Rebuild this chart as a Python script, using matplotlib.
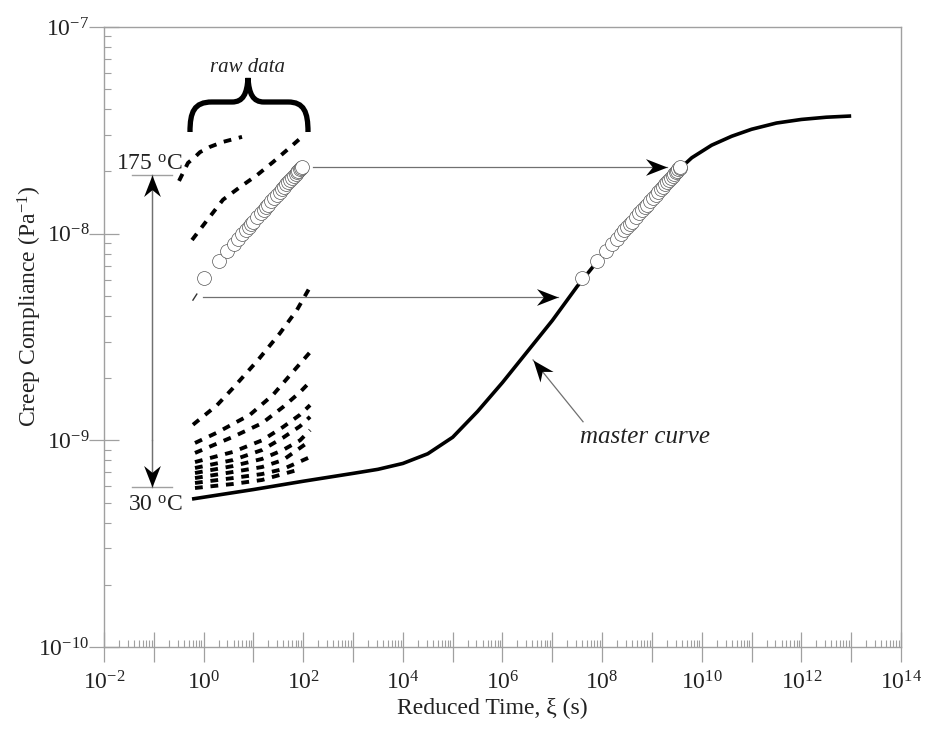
import numpy as np
import matplotlib
matplotlib.use("Agg")
import matplotlib.pyplot as plt
from matplotlib.ticker import FixedLocator, FuncFormatter, NullFormatter
from matplotlib.path import Path
from matplotlib.patches import PathPatch
from matplotlib.markers import MarkerStyle
from matplotlib.transforms import Affine2D

plt.rcParams['font.family'] = ['Liberation Serif', 'DejaVu Serif']
plt.rcParams['mathtext.fontset'] = 'custom'
plt.rcParams['mathtext.rm'] = 'Liberation Serif'
plt.rcParams['mathtext.it'] = 'Liberation Serif:italic'

# === data ===

# master curve (reduced time, compliance)
master_time = [0.585, 10, 100, 1e3, 3.16e3, 1e4, 3.16e4, 1e5, 3.16e5, 1e6, 3.16e6,
               1e7, 3.16e7, 1e8, 3.16e8, 1e9, 3.16e9, 6.31e9, 1.58e10, 3.98e10,
               1e11, 3.16e11, 1e12, 3.16e12, 1e13]
master_comp = [5.20e-10, 5.78e-10, 6.34e-10, 6.92e-10, 7.24e-10, 7.73e-10, 8.61e-10,
               1.035e-9, 1.38e-9, 1.905e-9, 2.69e-9, 3.80e-9, 5.56e-9, 7.85e-9,
               1.07e-8, 1.46e-8, 2.00e-8, 2.33e-8, 2.68e-8, 2.96e-8, 3.20e-8,
               3.43e-8, 3.57e-8, 3.66e-8, 3.71e-8]

# one raw isotherm shown with circles, and its shifted copy on the master curve
circ_time = [1, 2, 3, 4, 5, 6, 7, 8, 9, 10, 12, 14, 16, 18, 20, 23, 26, 30, 34, 38,
             42, 46, 50, 55, 60, 65, 70, 75, 80, 85, 90, 94]
circ_comp = [6.11e-9, 7.38e-9, 8.24e-9, 8.91e-9, 9.47e-9, 9.95e-9, 10.37e-9, 10.76e-9,
             11.11e-9, 11.43e-9, 12.01e-9, 12.53e-9, 12.99e-9, 13.41e-9, 13.80e-9,
             14.34e-9, 14.82e-9, 15.41e-9, 15.94e-9, 16.43e-9, 16.89e-9, 17.31e-9,
             17.71e-9, 18.17e-9, 18.61e-9, 19.02e-9, 19.40e-9, 19.77e-9, 20.12e-9,
             20.46e-9, 20.78e-9, 21.02e-9]
log_shift = 7.6

# other raw isotherms (dashed), hottest first
raw_time = [
    [0.321, 0.386, 0.485, 0.671, 0.845, 1.34, 2.45, 5.90],
    [0.585, 1.17, 2.45, 5.37, 11.8, 24.7, 47.2, 94.4],
    [0.612, 1.86, 3.89, 12.4, 34.1, 75.0, 137],
    [0.671, 1.86, 8.53, 24.7, 59.4, 137],
    [0.671, 3.89, 14.9, 39.3, 86.1, 137],
    [0.671, 3.89, 14.9, 39.3, 86.1, 137],
    [0.671, 3.89, 14.9, 39.3, 86.1, 137],
    [0.671, 3.89, 14.9, 39.3, 86.1, 137],
    [0.671, 3.89, 14.9, 39.3, 119],
    [0.671, 3.89, 14.9, 39.3, 125],
    [0.671, 3.89, 14.9, 75.0],
]
raw_comp = [
    [1.80e-8, 1.97e-8, 2.20e-8, 2.35e-8, 2.48e-8, 2.63e-8, 2.78e-8, 2.94e-8],
    [9.32e-9, 1.16e-8, 1.46e-8, 1.68e-8, 1.92e-8, 2.22e-8, 2.54e-8, 2.94e-8],
    [1.19e-9, 1.48e-9, 1.79e-9, 2.45e-9, 3.30e-9, 4.28e-9, 5.52e-9],
    [9.71e-10, 1.09e-9, 1.33e-9, 1.66e-9, 2.12e-9, 2.67e-9],
    [8.69e-10, 1.04e-9, 1.21e-9, 1.45e-9, 1.71e-9, 1.92e-9],
    [7.85e-10, 8.79e-10, 1.00e-9, 1.16e-9, 1.33e-9, 1.48e-9],
    [7.35e-10, 8.03e-10, 8.98e-10, 1.03e-9, 1.17e-9, 1.30e-9],
    [6.95e-10, 7.51e-10, 8.13e-10, 8.98e-10, 1.00e-9, 1.12e-9],
    [6.57e-10, 7.03e-10, 7.43e-10, 8.03e-10, 9.71e-10],
    [6.22e-10, 6.57e-10, 6.87e-10, 7.26e-10, 8.22e-10],
    [5.88e-10, 6.15e-10, 6.43e-10, 7.18e-10],
]
# small stray mark left of the lower horizontal arrow
stray_time = [0.61, 0.73]
stray_comp = [4.77e-9, 5.10e-9]

# axis decades
x_decades = list(range(-2, 15))
y_decades = list(range(-10, -6))

# === figure ===
GREY = '#a0a0a0'
fig = plt.figure(figsize=(9.25, 7.4), dpi=100)
ax = fig.add_axes([104 / 925, 93 / 740, 797 / 925, 620 / 740])
ax.set_xscale('log')
ax.set_yscale('log')
ax.set_xlim(1e-2, 1e14)
ax.set_ylim(1e-10, 1e-7)

ax.plot(master_time, master_comp, color='black', lw=2.6, solid_capstyle='butt',
        solid_joinstyle='round', zorder=3)
for t, j in zip(raw_time, raw_comp):
    ax.plot(t, j, color='black', lw=2.8, linestyle=(0, (2, 2)), dash_capstyle='butt', zorder=3)
ax.plot(stray_time, stray_comp, color='#333333', lw=1.0, zorder=3)

shift_time = [t * 10 ** log_shift for t in circ_time]
for xs in (circ_time, shift_time):
    ax.plot(xs, circ_comp, linestyle='none', marker='o', ms=10, mfc='white',
            mec='#555555', mew=0.5, zorder=5)

# axes styling
for s in ax.spines.values():
    s.set_color(GREY)
    s.set_linewidth(1.0)

x_major = [10.0 ** e for e in x_decades]
x_minor = [k * 10.0 ** e for e in x_decades[:-1] for k in range(2, 10)]
y_major = [10.0 ** e for e in y_decades]
y_minor = [k * 10.0 ** e for e in y_decades[:-1] for k in range(2, 10)]


def dec_fmt(every):
    def f(v, pos):
        e = int(round(np.log10(v)))
        return r'$10^{%d}$' % e if e % every == 0 else ''
    return f


ax.xaxis.set_major_locator(FixedLocator(x_major))
ax.xaxis.set_minor_locator(FixedLocator(x_minor))
ax.xaxis.set_major_formatter(FuncFormatter(dec_fmt(2)))
ax.xaxis.set_minor_formatter(NullFormatter())
ax.yaxis.set_major_locator(FixedLocator(y_major))
ax.yaxis.set_minor_locator(FixedLocator(y_minor))
ax.yaxis.set_major_formatter(FuncFormatter(dec_fmt(1)))
ax.yaxis.set_minor_formatter(NullFormatter())

ax.tick_params(which='major', direction='inout', length=21, width=0.9, color=GREY,
               labelsize=17, labelcolor='#222222')
ax.tick_params(which='minor', direction='in', length=5, width=0.8, color=GREY)
ax.tick_params(axis='x', which='major', pad=7)
ax.tick_params(axis='y', which='major', pad=0)

ax.set_xlabel('Reduced Time, ξ (s)', fontsize=17, color='#222222')
ax.xaxis.set_label_coords(0.487, -0.082)
ax.set_ylabel(r'Creep Compliance (Pa$^{-1}$)', fontsize=17, color='#222222')
ax.yaxis.set_label_coords(-0.075, 0.55)

# === annotations ===
head = Path([(0, 0), (-1, 0.39), (-0.68, 0), (-1, -0.39), (0, 0)],
            [Path.MOVETO, Path.LINETO, Path.LINETO, Path.LINETO, Path.CLOSEPOLY])


def arrow(x0, y0, x1, y1):
    ax.plot([x0, x1], [y0, y1], color='#707070', lw=0.9, zorder=4)
    p0 = ax.transData.transform((x0, y0))
    p1 = ax.transData.transform((x1, y1))
    ang = np.degrees(np.arctan2(p1[1] - p0[1], p1[0] - p0[0]))
    m = MarkerStyle(head, transform=Affine2D().rotate_deg(ang))
    ax.plot([x1], [y1], marker=m, ms=31, mfc='black', mec='black', mew=0,
            linestyle='none', zorder=6)


# shifting arrows
arrow(157, 2.10e-8, 2.01e9, 2.10e-8)
arrow(0.97, 4.94e-9, 1.30e7, 4.94e-9)
# master curve pointer
arrow(4.14e7, 1.23e-9, 4.10e6, 2.45e-9)
ax.text(7.26e8, 1.04e-9, 'master curve', fontsize=18, style='italic',
        ha='center', va='center', color='#222222')

# temperature range arrow
t_top, t_bot = 1.92e-8, 5.94e-10
ax.plot([0.092, 0.092], [t_top, t_bot], color='#707070', lw=0.9, zorder=4)
arrow(0.092, 1e-9, 0.092, t_top)
arrow(0.092, 1e-9, 0.092, t_bot)
ax.plot([0.0365, 0.232], [t_top, t_top], color=GREY, lw=1.0)
ax.plot([0.0365, 0.232], [t_bot, t_bot], color=GREY, lw=1.0)
ax.text(0.386, 2.03e-8, r'175 $^{\rm o}$C', fontsize=17, ha='right', va='baseline',
        color='#222222')
ax.text(0.386, 5.45e-10, r'30 $^{\rm o}$C', fontsize=17, ha='right', va='top',
        color='#222222')

# brace over the raw data
W, H = 925.0, 740.0
bp = [(190, 132), (190, 112), (194, 102), (212, 102), (232, 102),
      (243, 102), (247, 94), (248, 78), (249, 94), (253, 102), (264, 102),
      (288, 102), (304, 102), (308, 112), (308, 132)]
bc = [Path.MOVETO, Path.CURVE4, Path.CURVE4, Path.CURVE4, Path.LINETO,
      Path.CURVE4, Path.CURVE4, Path.CURVE4, Path.CURVE4, Path.CURVE4, Path.CURVE4,
      Path.LINETO, Path.CURVE4, Path.CURVE4, Path.CURVE4]
brace = Path([(x / W, 1 - y / H) for x, y in bp], bc)
fig.patches.append(PathPatch(brace, transform=fig.transFigure, fill=False,
                             lw=3.8, color='black', capstyle='butt'))
fig.text(248 / W, 1 - 67 / H, 'raw data', fontsize=15, style='italic',
         ha='center', va='center', color='#222222')

fig.savefig('out.png', dpi=100)
